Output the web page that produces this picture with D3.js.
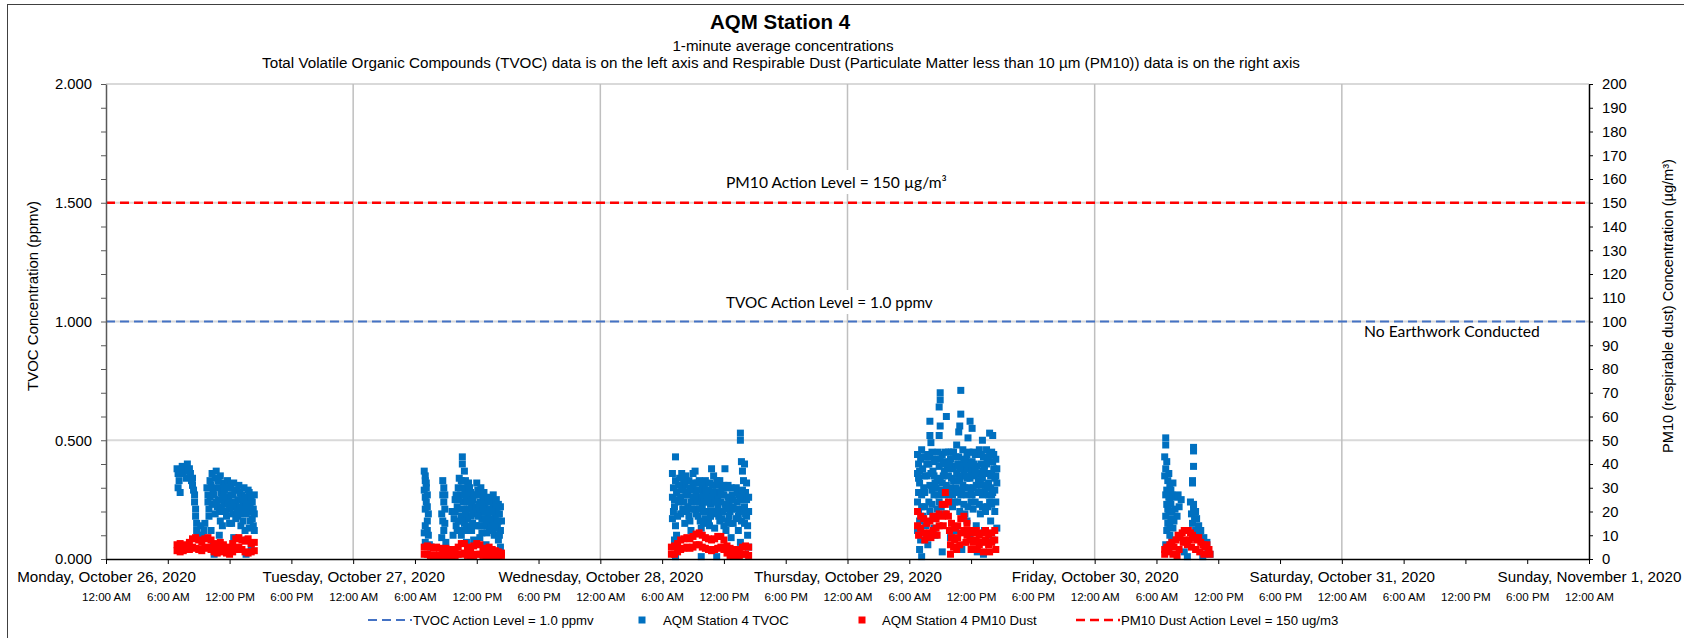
<!DOCTYPE html>
<html>
<head>
<meta charset="utf-8">
<script src="https://cdn.jsdelivr.net/npm/d3@7"></script>
<style>
  html, body { margin: 0; padding: 0; background: #fff; }
  svg { display: block; font-family: 'Liberation Sans', Arial, sans-serif; }
</style>
</head>
<body>
<svg></svg>
<script>
const w = 1684
const h = 638

// chart values
// each entry: [hour of the day, value]
const dayStarts = ['2020-10-26', '2020-10-27', '2020-10-28', '2020-10-29', '2020-10-30']
const domainDays = ['2020-10-26', '2020-11-01']

const tvoc26 = [[6.9,0.38],[7.0,0.36],[7.1,0.33],[7.0,0.30],[7.2,0.28],[7.4,0.39],[7.6,0.38],[7.9,0.40],[8.1,0.38],[8.2,0.36],[7.8,0.34],[8.3,0.33],[8.4,0.31],[8.5,0.29],[8.6,0.27],[8.6,0.24],[8.7,0.21],[8.7,0.18],[8.8,0.15],[8.8,0.12],[8.9,0.10],[9.2,0.14],[9.5,0.12],[9.6,0.15],[9.9,0.27],[9.9,0.24],[10.0,0.21],[10.0,0.18],[10.2,0.31],[10.3,0.36],[10.4,0.06],[10.5,0.02],[10.6,0.34],[10.7,0.37],[10.8,0.30],[10.9,0.25],[11.0,0.20],[11.1,0.35],[11.2,0.28],[11.3,0.14],[11.4,0.32],[11.5,0.24],[11.6,0.30],[11.7,0.18],[11.8,0.33],[11.9,0.26],[12.0,0.21],[12.1,0.31],[12.2,0.15],[12.3,0.27],[12.4,0.32],[12.5,0.22],[12.6,0.17],[12.7,0.29],[12.8,0.25],[12.9,0.31],[13.0,0.19],[13.1,0.14],[13.2,0.27],[13.3,0.23],[13.4,0.30],[13.5,0.12],[13.6,0.25],[13.6,0.02],[13.7,0.08],[13.8,0.20],[13.9,0.28],[14.0,0.16],[14.1,0.05],[14.2,0.24],[14.3,0.21],[14.4,0.27],
  [9.8,0.30],[10.1,0.26],[10.3,0.23],[10.4,0.29],[10.6,0.19],[10.8,0.22],[10.9,0.33],[11.1,0.16],[11.2,0.22],[11.4,0.27],[11.6,0.20],[11.7,0.26],[11.9,0.30],[12.0,0.15],[12.2,0.24],[12.3,0.19],[12.5,0.29],[12.6,0.23],[12.8,0.18],[12.9,0.22],[13.0,0.28],[13.2,0.20],[13.3,0.16],[13.5,0.26],[13.6,0.19],[13.8,0.29],[13.9,0.13],[14.0,0.22],[14.2,0.17],[14.4,0.12],[14.4,0.19],[10.2,0.12],[11.0,0.10],[12.4,0.09],[9.3,0.10],
  [7.2,0.37],[7.5,0.36],[8.0,0.37],[8.4,0.34],[10.1,0.33],[10.5,0.27],[10.7,0.24],[11.0,0.30],[11.3,0.25],[11.5,0.29],[11.8,0.23],[12.1,0.27],[12.3,0.22],[12.7,0.20],[13.1,0.25],[13.4,0.21],[13.7,0.23],[14.1,0.26],[14.3,0.14]]

const tvoc27 = [[6.9,0.37],[7.0,0.35],[7.1,0.32],[6.9,0.29],[7.2,0.27],[7.1,0.24],[7.0,0.21],[7.3,0.19],[7.2,0.16],[7.0,0.14],[6.9,0.11],[7.3,0.10],[7.0,0.07],[7.4,0.06],[7.6,0.05],[8.7,0.33],[8.8,0.30],[8.9,0.27],[8.8,0.24],[8.6,0.19],[8.7,0.16],[8.8,0.12],[8.6,0.09],[9.0,0.07],[9.6,0.20],[9.8,0.17],[9.9,0.25],[10.0,0.14],[10.1,0.22],[10.2,0.30],[10.6,0.43],[10.6,0.40],[10.4,0.27],[10.5,0.18],[10.5,0.10],[10.8,0.37],[10.7,0.24],[10.9,0.33],[10.8,0.15],[10.9,0.28],[11.0,0.21],[11.0,0.07],[11.1,0.30],[11.2,0.12],[11.3,0.26],[11.4,0.18],[11.5,0.23],[11.6,0.15],[11.7,0.08],[11.8,0.19],[12.0,0.32],[12.1,0.29],[12.2,0.14],[12.3,0.24],[12.4,0.20],[12.5,0.11],[12.6,0.26],[12.7,0.17],[12.8,0.22],[12.9,0.06],[13.0,0.25],[13.1,0.19],[13.2,0.13],[13.3,0.24],[13.4,0.21],[13.5,0.16],[13.6,0.23],[13.7,0.10],[13.8,0.18],[13.9,0.21],[14.0,0.14],[14.1,0.08],[14.2,0.19],[14.3,0.12],[14.3,0.05],
  [7.1,0.30],[7.0,0.26],[7.2,0.22],[8.9,0.21],[9.7,0.10],[10.0,0.27],[10.2,0.16],[10.3,0.34],[10.4,0.21],[10.6,0.30],[10.7,0.12],[10.9,0.19],[11.0,0.26],[11.1,0.17],[11.2,0.32],[11.3,0.21],[11.4,0.28],[11.5,0.12],[11.6,0.25],[11.8,0.27],[11.9,0.14],[12.0,0.21],[12.2,0.27],[12.3,0.09],[12.4,0.30],[12.5,0.17],[12.7,0.24],[12.8,0.14],[12.9,0.20],[13.0,0.11],[13.1,0.26],[13.2,0.21],[13.4,0.15],[13.5,0.25],[13.6,0.12],[13.7,0.20],[13.8,0.24],[14.0,0.19],[14.1,0.23],[14.2,0.10],[14.4,0.16],
  [7.0,0.33],[7.2,0.12],[8.7,0.27],[8.9,0.15],[9.9,0.20],[10.1,0.12],[10.3,0.25],[10.5,0.33],[10.6,0.16],[10.8,0.27],[11.0,0.14],[11.1,0.24],[11.3,0.30],[11.4,0.13],[11.6,0.20],[11.7,0.27],[11.9,0.22],[12.1,0.18],[12.2,0.23],[12.4,0.14],[12.6,0.21],[12.7,0.28],[12.9,0.16],[13.0,0.20],[13.2,0.25],[13.3,0.17],[13.5,0.20],[13.6,0.27],[13.8,0.13],[13.9,0.25],[14.1,0.16],[14.3,0.22]]

const tvoc28 = [[7.3,0.43],[7.0,0.36],[7.3,0.33],[7.1,0.30],[7.0,0.26],[7.2,0.22],[7.0,0.17],[7.3,0.14],[7.4,0.10],[7.2,0.08],[7.3,0.01],[7.7,0.34],[7.9,0.36],[8.0,0.29],[8.1,0.24],[8.2,0.31],[8.3,0.35],[8.4,0.20],[8.5,0.27],[8.6,0.33],[8.7,0.16],[8.8,0.24],[8.9,0.29],[9.0,0.36],[9.1,0.21],[9.2,0.37],[9.3,0.27],[9.4,0.32],[9.5,0.18],[9.6,0.24],[9.7,0.29],[9.8,0.13],[9.8,0.01],[9.9,0.22],[10.0,0.27],[10.1,0.31],[10.2,0.17],[10.3,0.25],[10.4,0.20],[10.5,0.29],[10.6,0.14],[10.7,0.23],[10.8,0.38],[10.9,0.31],[11.0,0.35],[11.1,0.19],[11.2,0.26],[11.3,0.01],[11.3,0.33],[11.4,0.22],[11.5,0.28],[11.6,0.16],[11.7,0.24],[11.8,0.30],[11.9,0.20],[12.0,0.27],[12.1,0.38],[12.2,0.12],[12.3,0.23],[12.4,0.31],[12.5,0.18],[12.6,0.26],[12.7,0.09],[12.8,0.21],[12.9,0.15],[13.2,0.30],[13.3,0.24],[13.4,0.18],[13.4,0.12],[13.5,0.27],[13.6,0.53],[13.6,0.50],[13.6,0.07],[13.7,0.41],[13.8,0.37],[13.8,0.21],[13.9,0.33],[14.0,0.40],[14.0,0.15],[14.1,0.28],[14.2,0.25],[14.3,0.10],[14.4,0.20],[14.4,0.05],
  [7.1,0.20],[7.4,0.28],[7.6,0.24],[7.8,0.19],[7.9,0.30],[8.1,0.33],[8.2,0.15],[8.4,0.27],[8.5,0.22],[8.7,0.30],[8.8,0.12],[9.0,0.26],[9.1,0.32],[9.3,0.19],[9.4,0.24],[9.6,0.33],[9.7,0.16],[9.8,0.26],[10.0,0.20],[10.1,0.24],[10.2,0.33],[10.4,0.28],[10.5,0.16],[10.6,0.32],[10.7,0.18],[10.9,0.24],[11.0,0.28],[11.1,0.13],[11.2,0.31],[11.4,0.26],[11.5,0.18],[11.6,0.33],[11.7,0.20],[11.9,0.27],[12.0,0.14],[12.1,0.23],[12.3,0.30],[12.4,0.16],[12.5,0.24],[12.6,0.20],[12.8,0.27],[12.9,0.22],[13.3,0.28],[13.5,0.20],[13.7,0.16],[13.9,0.26],[14.1,0.19],[14.2,0.32],[14.3,0.14],
  [7.2,0.25],[7.5,0.18],[7.6,0.31],[7.8,0.26],[8.0,0.21],[8.3,0.28],[8.6,0.18],[8.9,0.21],[9.0,0.31],[9.2,0.26],[9.5,0.29],[9.7,0.21],[9.9,0.31],[10.0,0.15],[10.3,0.29],[10.4,0.24],[10.6,0.26],[10.8,0.20],[10.9,0.28],[11.1,0.24],[11.3,0.20],[11.5,0.32],[11.7,0.28],[11.8,0.17],[12.0,0.31],[12.2,0.21],[12.4,0.26],[12.6,0.15],[12.7,0.30],[12.9,0.25],[13.2,0.17],[13.3,0.21],[13.6,0.25],[13.8,0.29],[14.0,0.22],[14.2,0.18],[14.4,0.26]]

const tvoc29 = [[9.0,0.70],[9.0,0.67],[8.9,0.64],[11.0,0.71],[8.0,0.58],[9.6,0.60],[11.0,0.61],[11.9,0.58],[9.0,0.56],[10.9,0.56],[10.8,0.535],[12.1,0.55],[8.0,0.52],[8.1,0.49],[8.9,0.52],[11.7,0.51],[13.8,0.53],[14.1,0.52],[10.6,0.48],[9.8,0.45],[13.1,0.50],
  [6.8,0.44],[6.9,0.40],[6.8,0.36],[7.0,0.32],[6.9,0.28],[7.2,0.46],[7.3,0.38],[7.4,0.30],[7.6,0.43],[7.7,0.35],[7.9,0.40],[8.0,0.31],[8.2,0.45],[8.3,0.37],[8.4,0.27],[8.6,0.42],[8.7,0.33],[8.9,0.39],[9.1,0.29],[9.2,0.44],[9.3,0.35],[9.5,0.41],[9.6,0.31],[9.7,0.38],[9.9,0.27],[10.0,0.42],[10.1,0.34],[10.3,0.45],[10.4,0.39],[10.5,0.30],[10.6,0.36],[10.8,0.43],[10.9,0.33],[11.0,0.27],[11.1,0.40],[11.2,0.46],[11.3,0.36],[11.4,0.30],[11.5,0.42],[11.6,0.34],[11.8,0.45],[11.9,0.38],[12.0,0.29],[12.1,0.41],[12.3,0.35],[12.4,0.44],[12.5,0.31],[12.6,0.39],[12.8,0.46],[12.9,0.33],[13.0,0.40],[13.1,0.27],[13.2,0.43],[13.4,0.36],[13.5,0.46],[13.6,0.30],[13.7,0.41],[13.9,0.35],[14.0,0.45],[14.1,0.28],[14.2,0.38],[14.4,0.42],[14.5,0.32],
  [6.9,0.34],[7.1,0.42],[7.2,0.27],[7.5,0.35],[7.8,0.44],[8.1,0.36],[8.4,0.41],[8.5,0.32],[8.8,0.45],[9.0,0.34],[9.3,0.40],[9.4,0.27],[9.8,0.35],[10.0,0.30],[10.2,0.38],[10.4,0.28],[10.7,0.40],[10.8,0.29],[11.0,0.35],[11.2,0.31],[11.4,0.38],[11.6,0.27],[11.7,0.40],[12.0,0.36],[12.2,0.30],[12.4,0.38],[12.7,0.28],[12.8,0.36],[13.0,0.31],[13.2,0.37],[13.3,0.28],[13.5,0.40],[13.7,0.32],[13.8,0.44],[14.0,0.27],[14.2,0.44],[14.3,0.34],[14.5,0.38],
  [7.0,0.37],[7.3,0.43],[7.5,0.28],[7.7,0.40],[8.0,0.43],[8.2,0.29],[8.4,0.35],[8.6,0.30],[8.8,0.27],[9.0,0.42],[9.2,0.32],[9.4,0.37],[9.5,0.45],[9.7,0.29],[9.9,0.40],[10.1,0.45],[10.2,0.27],[10.3,0.33],[10.5,0.43],[10.6,0.28],[10.7,0.33],[10.9,0.38],[11.1,0.29],[11.3,0.42],[11.5,0.35],[11.6,0.44],[11.8,0.30],[11.9,0.34],[12.1,0.27],[12.2,0.45],[12.3,0.40],[12.5,0.36],[12.6,0.44],[12.7,0.33],[12.9,0.28],[13.0,0.44],[13.1,0.34],[13.3,0.39],[13.4,0.31],[13.6,0.42],[13.7,0.27],[13.9,0.30],[14.0,0.36],[14.1,0.41],[14.3,0.29],[14.4,0.35],
  [6.8,0.24],[6.9,0.20],[7.0,0.16],[6.8,0.12],[7.1,0.08],[7.0,0.04],[7.2,0.01],[7.5,0.22],[7.6,0.14],[7.8,0.06],[8.2,0.23],[8.3,0.17],[8.5,0.10],[8.7,0.21],[9.2,0.03],[9.4,0.19],[10.2,0.22],[10.5,0.12],[10.9,0.20],[11.3,0.23],[11.6,0.16],[11.9,0.10],[12.2,0.21],[12.5,0.14],[12.6,0.03],[12.9,0.19],[13.2,0.02],[13.3,0.12],[13.6,0.22],[13.9,0.16],[14.1,0.08],[14.3,0.20],[14.5,0.13],[11.1,0.04],[10.0,0.09],
  [7.3,0.18],[7.7,0.10],[8.0,0.20],[8.4,0.13],[8.9,0.24],[10.7,0.24],[11.4,0.19],[12.0,0.24],[12.8,0.23],[13.4,0.20],[14.0,0.23],[14.4,0.24],
  [7.2,0.22],[7.9,0.24],[9.1,0.22],[10.4,0.24],[11.7,0.22],[12.4,0.24],[13.1,0.22],[13.8,0.24]]

const tvoc30 = [[6.9,0.51],[6.9,0.48],[9.6,0.47],[9.6,0.455],[9.6,0.39],[9.5,0.33],[9.5,0.32],[6.8,0.43],[7.0,0.41],[6.9,0.38],[7.2,0.36],[7.1,0.33],[7.3,0.31],[7.4,0.29],[7.6,0.32],[7.5,0.27],[7.3,0.25],[7.0,0.23],[7.2,0.20],[6.9,0.18],[7.1,0.15],[7.4,0.17],[7.0,0.12],[7.3,0.10],[7.6,0.13],[6.9,0.06],[7.2,0.04],[7.8,0.26],[8.1,0.27],[8.4,0.25],[7.8,0.21],[8.0,0.18],[9.3,0.24],[9.6,0.23],[9.8,0.20],[9.4,0.19],[9.7,0.17],[9.5,0.15],[9.8,0.12],[10.1,0.14],[10.2,0.10],[10.4,0.08],[10.7,0.06],[11.0,0.04],[11.2,0.02],[10.5,0.01],[9.0,0.01],[8.7,0.03],
  [6.8,0.35],[7.0,0.29],[7.2,0.26],[6.9,0.27],[7.1,0.21],[7.4,0.23],[7.3,0.14],[7.5,0.20],[7.7,0.16],[7.5,0.08],[8.2,0.22],[9.9,0.17],[10.0,0.11],[10.3,0.12],[9.6,0.21],[10.6,0.09],[10.9,0.07]]

const pm26 = [[6.9,6],[7.2,6.5],[7.5,6],[7.8,5.5],[8.1,7],[8.4,8.5],[8.7,9],[9.0,8],[9.3,7],[9.6,8.5],[9.9,9],[10.2,8],[10.5,6.5],[10.8,5.5],[11.1,7],[11.4,6],[11.7,5],[12.0,4.5],[12.3,6.5],[12.6,8.5],[12.9,9],[13.2,8],[13.5,7.5],[13.8,8.5],[14.1,6.5],[14.4,7],
  [6.9,3.5],[7.2,3],[7.5,3.5],[7.8,4],[8.1,4],[8.4,5],[8.7,4.5],[9.0,4],[9.3,3.5],[9.6,4.5],[9.9,5],[10.2,4],[10.5,3],[10.8,2.5],[11.1,3],[11.4,3.5],[11.7,2.5],[12.0,2],[12.3,3],[12.6,4],[12.9,5],[13.2,4],[13.5,3],[13.8,2.5],[14.1,3],[14.4,3.5]]

const pm27 = [[6.9,5],[7.2,5.5],[7.5,5],[7.8,4.5],[8.1,5],[8.4,4.5],[8.7,4],[9.0,4.5],[9.3,4],[9.6,3.5],[9.9,4],[10.2,5],[10.5,6.5],[10.8,6.5],[11.1,5],[11.4,4],[11.7,5.5],[12.0,6.5],[12.3,6],[12.6,4.5],[12.9,4],[13.2,5],[13.5,4],[13.8,3.5],[14.1,3],[14.4,2.5],
  [6.9,2],[7.2,2],[7.5,1.5],[7.8,1.5],[8.1,1.5],[8.4,1.5],[8.7,1.5],[9.0,1.5],[9.3,1.5],[9.6,1.5],[9.9,1.5],[10.2,2],[10.5,2],[10.8,2.5],[11.1,1.5],[11.4,1.5],[11.7,1.5],[12.0,2],[12.3,2],[12.6,1.5],[12.9,1.5],[13.2,1.5],[13.5,1.5],[13.8,1.5],[14.1,1.5],[14.4,1.5]]

const pm28 = [[6.9,5],[7.2,5.5],[7.5,6.5],[7.8,8],[8.1,8.5],[8.4,9],[8.7,8.5],[9.0,9.5],[9.3,10.5],[9.6,11],[9.9,10],[10.2,9],[10.5,8.5],[10.8,8],[11.1,8.5],[11.4,9.5],[11.7,9.5],[12.0,8],[12.3,5.5],[12.6,4.5],[12.9,4],[13.2,3.5],[13.5,4],[13.8,5],[14.1,5.5],[14.4,5],
  [6.9,2],[7.2,2],[7.5,3],[7.8,4],[8.1,4.5],[8.4,5],[8.7,4.5],[9.0,5],[9.3,6],[9.6,6],[9.9,5],[10.2,4.5],[10.5,4],[10.8,3.5],[11.1,4],[11.4,4.5],[11.7,5],[12.0,4],[12.3,2.5],[12.6,1.5],[12.9,1.5],[13.2,1.5],[13.5,1.5],[13.8,2],[14.1,2],[14.4,1.5]]

const pm29 = [[6.8,20],[7.1,18],[7.4,17],[7.7,15],[8.0,16],[8.3,18],[8.6,17],[8.9,19],[9.2,23],[9.5,28],[9.8,24],[10.1,15],[10.4,13],[10.7,14],[11.0,17],[11.3,18],[11.6,15],[11.9,12],[12.2,11],[12.5,12],[12.8,10],[13.1,11],[13.4,12],[13.7,10],[14.0,11],[14.3,12],
  [6.8,14],[7.1,13],[7.4,11],[7.7,10],[8.0,11],[8.3,12],[8.6,13],[8.9,14],[9.2,18],[9.5,23],[9.8,18],[10.1,9],[10.4,8],[10.7,9],[11.0,11],[11.3,12],[11.6,10],[11.9,8],[12.2,7],[12.5,8],[12.8,6],[13.1,7],[13.4,8],[13.7,6],[14.0,7],[14.3,8],
  [6.9,10],[7.5,8],[8.1,9],[8.7,10],[9.3,14],[9.6,19],[9.9,12],[10.0,6],[10.0,2],[10.3,5],[10.6,4],[10.9,6],[11.5,7],[12.0,4],[12.6,4],[13.2,3],[13.8,3],[14.4,4]]

const pm30 = [[6.8,2],[6.8,4],[7.0,5],[7.2,3],[7.3,6],[7.5,7],[7.7,5],[7.9,8],[8.1,10],[8.3,9],[8.5,11],[8.7,12],[8.9,12],[9.1,12],[9.3,11],[9.5,10],[9.7,9],[9.9,8],[10.1,9],[10.3,7],[10.5,6],[10.7,5],[10.9,6],[11.1,4],[11.2,2],[8.6,7],[9.0,6],[9.4,5],[9.8,4],[10.2,3],[8.2,4],[7.6,2],[8.0,1.5],[10.6,2],[8.8,8],[9.2,8]]

const tvocAction = [1.0, 1.0]
const pmAction = [150, 150]

const tvocTicks = [0, 0.5, 1, 1.5, 2]
const tvocMinor = [0, 0.1, 0.2, 0.3, 0.4, 0.5, 0.6, 0.7, 0.8, 0.9, 1, 1.1, 1.2, 1.3, 1.4, 1.5, 1.6, 1.7, 1.8, 1.9, 2]
const pmTicks = [0, 10, 20, 30, 40, 50, 60, 70, 80, 90, 100, 110, 120, 130, 140, 150, 160, 170, 180, 190, 200]

const titleText = 'AQM Station 4'
const subtitleText = '1-minute average concentrations'
const noteText = 'Total Volatile Organic Compounds (TVOC) data is on the left axis and Respirable Dust (Particulate Matter less than 10 \u00b5m (PM10)) data is on the right axis'
const legendLabels = ['TVOC Action Level = 1.0 ppmv', 'AQM Station 4 TVOC', 'AQM Station 4 PM10 Dust', 'PM10 Dust Action Level = 150 ug/m3']

const blue = '#0070c0'
const red = '#ff0000'
const lineBlue = '#4472c4'

const pLeft = 106
const pRight = 1589
const pTop = 84
const pBottom = 559

const toRows = days => days.flatMap((day, i) => day.map(([hr, v]) => ({
  t: new Date(Date.parse(dayStarts[i] + 'T00:00:00Z') + hr * 3600e3),
  v
})))

const tvoc = toRows([tvoc26, tvoc27, tvoc28, tvoc29, tvoc30])
const pm = toRows([pm26, pm27, pm28, pm29, pm30])

const xDomain = domainDays.map(d => new Date(d + 'T00:00:00Z'))

const x = d3.scaleUtc().domain(xDomain).range([pLeft, pRight])
const yL = d3.scaleLinear().domain([0, 2]).range([pBottom, pTop])
const yR = d3.scaleLinear().domain([0, 200]).range([pBottom, pTop])

const svg = d3.select('svg').attr('width', w).attr('height', h)

// outer chart frame (runs off the right and bottom)
svg.append('rect')
  .attr('x', 7.5).attr('y', 4.5)
  .attr('width', w + 10).attr('height', h + 10)
  .attr('fill', 'none')
  .attr('stroke', '#404040')

// titles
svg.append('text')
  .attr('x', 780).attr('y', 29)
  .attr('text-anchor', 'middle')
  .attr('font-size', 20.5).attr('font-weight', 'bold')
  .text(titleText)

svg.append('text')
  .attr('x', 783).attr('y', 51)
  .attr('text-anchor', 'middle')
  .attr('font-size', 15.2)
  .text(subtitleText)

svg.append('text')
  .attr('x', 781).attr('y', 68)
  .attr('text-anchor', 'middle')
  .attr('font-size', 15.2)
  .text(noteText)

// gridlines
svg.append('g')
  .selectAll('line')
  .data(tvocTicks.slice(1))
  .join('line')
  .attr('x1', pLeft).attr('x2', pRight)
  .attr('y1', d => yL(d)).attr('y2', d => yL(d))
  .attr('stroke', '#d9d9d9')
  .attr('stroke-width', 2)

const dayTicks = d3.utcDay.range(xDomain[0], d3.utcDay.offset(xDomain[1], 1))

svg.append('g')
  .selectAll('line')
  .data(dayTicks.slice(1, -1))
  .join('line')
  .attr('x1', d => x(d)).attr('x2', d => x(d))
  .attr('y1', pTop).attr('y2', pBottom)
  .attr('stroke', '#bfbfbf')
  .attr('stroke-width', 1.5)

// in-plot labels; the two action labels sit on white boxes that cut the gridline
const labels = svg.append('g')
  .attr('font-family', 'Lato, "Noto Sans", sans-serif')

const noteLabel = (txt, xPos, yPos, width, boxed) => {
  const t = labels.append('text')
    .attr('x', xPos).attr('y', yPos)
    .attr('font-size', 14)
    .text(txt)
  const len = t.node().getComputedTextLength()
  t.attr('font-size', 14 * width / len)
  if (!boxed) return
  const b = t.node().getBBox()
  labels.insert('rect', 'text')
    .attr('x', b.x - 4).attr('y', b.y - 3)
    .attr('width', b.width + 8).attr('height', b.height + 6)
    .attr('fill', '#fff')
}

noteLabel('PM10 Action Level = 150 \u00b5g/m\u00b3', 726, 188, 221, true)
noteLabel('TVOC Action Level = 1.0 ppmv', 726, 308, 207, true)
noteLabel('No Earthwork Conducted', 1364, 337, 176, false)

// action level lines
const actionLine = (scale, vals, color, width) => {
  svg.append('path')
    .datum(vals.map((v, i) => ({ t: xDomain[i], v })))
    .attr('d', d3.line().x(d => x(d.t)).y(d => scale(d.v)))
    .attr('fill', 'none')
    .attr('stroke', color)
    .attr('stroke-width', width)
    .attr('stroke-dasharray', '9 5')
}

actionLine(yL, tvocAction, lineBlue, 2.2)
actionLine(yR, pmAction, red, 2.6)

// data
const size = 7

svg.append('g')
  .selectAll('rect')
  .data(tvoc)
  .join('rect')
  .attr('x', d => x(d.t) - size / 2)
  .attr('y', d => yL(d.v) - size / 2)
  .attr('width', size).attr('height', size)
  .attr('fill', blue)

svg.append('g')
  .selectAll('rect')
  .data(pm)
  .join('rect')
  .attr('x', d => x(d.t) - size / 2)
  .attr('y', d => yR(d.v) - size / 2)
  .attr('width', size).attr('height', size)
  .attr('fill', red)

// axes
const yAxisL = svg.append('g')
  .attr('transform', `translate(${pLeft}, 0)`)
  .call(d3.axisLeft(yL).tickValues(tvocMinor).tickSize(5).tickSizeOuter(0).tickFormat(''))

yAxisL.select('.domain').attr('stroke', '#595959').attr('stroke-width', 1.5)
yAxisL.selectAll('.tick line').attr('stroke', '#595959')

svg.append('g')
  .attr('transform', `translate(${pLeft - 14}, 0)`)
  .call(d3.axisLeft(yL).tickValues(tvocTicks).tickSize(0).tickFormat(d3.format('.3f')))
  .call(g => g.select('.domain').remove())
  .selectAll('text')
  .attr('font-size', 14.8)
  .attr('font-family', null)
  .attr('fill', '#000')
  .attr('x', 0)

const yAxisR = svg.append('g')
  .attr('transform', `translate(${pRight}, 0)`)
  .call(d3.axisRight(yR).tickValues(pmTicks).tickSize(4).tickSizeOuter(0).tickPadding(9))

yAxisR.select('.domain').attr('stroke', '#000').attr('stroke-width', 1.5)
yAxisR.selectAll('text').attr('font-size', 14.8).attr('font-family', null).attr('fill', '#000')

const sixHours = d3.utcHour.every(6).range(xDomain[0], d3.utcHour.offset(xDomain[1], 1))

const xAxis = svg.append('g')
  .attr('transform', `translate(0, ${pBottom})`)
  .call(d3.axisBottom(x).tickValues(sixHours).tickSize(5).tickSizeOuter(0).tickFormat(d3.utcFormat('%-I:%M %p')))

xAxis.select('.domain').attr('stroke', '#000').attr('stroke-width', 1.5)
xAxis.selectAll('.tick line').attr('stroke', '#000')
xAxis.selectAll('text')
  .attr('font-size', 11.6)
  .attr('font-family', null)
  .attr('fill', '#000')
  .attr('y', 38)
  .attr('dy', '0.35em')

svg.append('g')
  .attr('transform', `translate(0, ${pBottom})`)
  .call(d3.axisBottom(x).tickValues(dayTicks).tickSize(0).tickFormat(d3.utcFormat('%A, %B %-d, %Y')))
  .call(g => g.select('.domain').remove())
  .selectAll('text')
  .attr('font-size', 15.2)
  .attr('font-family', null)
  .attr('fill', '#000')
  .attr('y', 18)
  .attr('dy', '0.35em')

// axis titles
svg.append('text')
  .attr('transform', 'translate(38, 296) rotate(-90)')
  .attr('text-anchor', 'middle')
  .attr('font-size', 15)
  .text('TVOC Concentration (ppmv)')

svg.append('text')
  .attr('transform', 'translate(1673, 306) rotate(-90)')
  .attr('text-anchor', 'middle')
  .attr('font-size', 14.6)
  .text('PM10 (respirable dust) Concentration (\u00b5g/m\u00b3)')

// legend
const legend = svg.append('g')
  .attr('transform', 'translate(0, 620)')
  .attr('font-size', 13.2)

legend.append('line')
  .attr('x1', 368).attr('x2', 412)
  .attr('stroke', lineBlue).attr('stroke-width', 2.2)
  .attr('stroke-dasharray', '9 5')

legend.append('rect')
  .attr('x', 642 - 3.5).attr('y', -3.5)
  .attr('width', 7).attr('height', 7)
  .attr('fill', blue)

legend.append('rect')
  .attr('x', 862 - 3.5).attr('y', -3.5)
  .attr('width', 7).attr('height', 7)
  .attr('fill', red)

legend.append('line')
  .attr('x1', 1076).attr('x2', 1120)
  .attr('stroke', red).attr('stroke-width', 2.6)
  .attr('stroke-dasharray', '9 5')

legend.selectAll('text')
  .data(legendLabels)
  .join('text')
  .attr('x', (d, i) => [413, 663, 882, 1121][i])
  .attr('dy', '0.35em')
  .text(d => d)
</script>
</body>
</html>
